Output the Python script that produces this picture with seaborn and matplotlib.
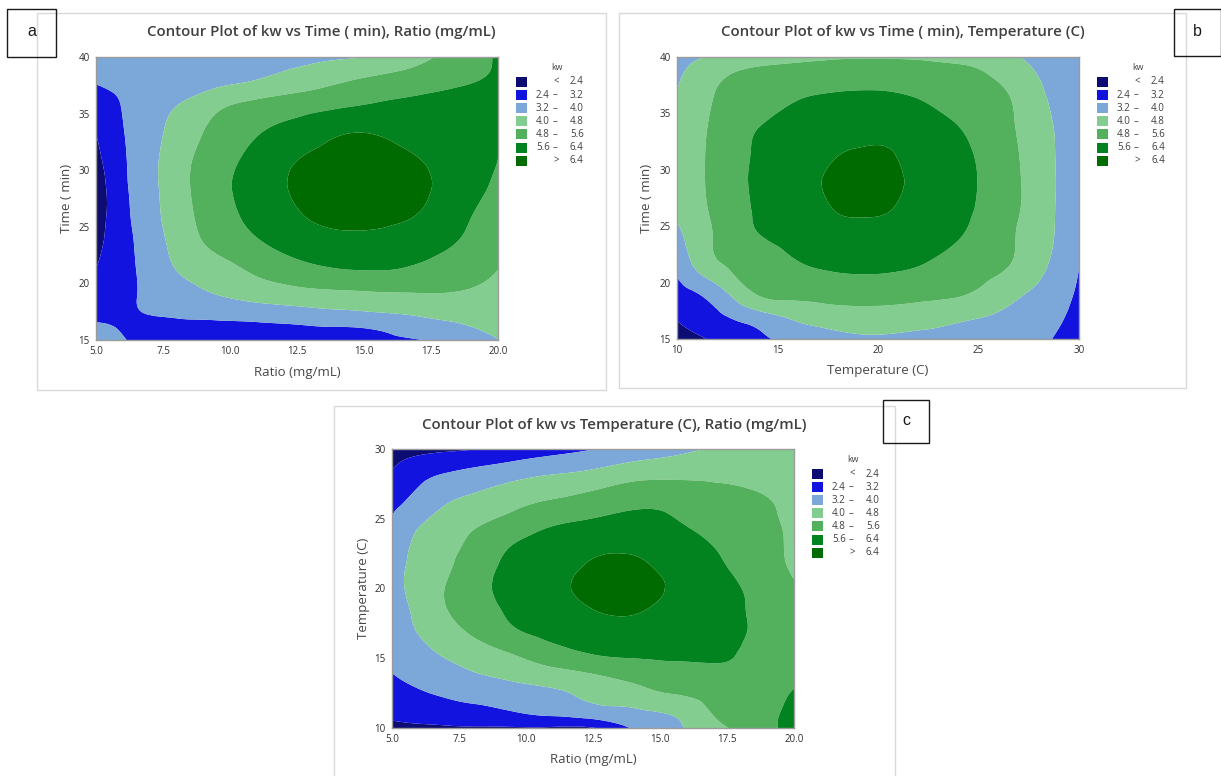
import numpy as np
import matplotlib
matplotlib.use("Agg")
import matplotlib.pyplot as plt
import matplotlib.tri as mtri
from matplotlib.patches import Rectangle
import seaborn as sns

# ---------------------------------------------------------------------------
# kw bands shared by the three contour plots
kw_levels = [0.0, 2.4, 3.2, 4.0, 4.8, 5.6, 6.4, 9.0]
band_low = ["<", "2.4", "3.2", "4.0", "4.8", "5.6", ">"]
band_high = ["2.4", "3.2", "4.0", "4.8", "5.6", "6.4", "6.4"]
band_colors = ["#0c0c72", "#1313e0", "#7ba7d9", "#82cd8f", "#53b05d", "#03831f", "#006b00"]

# (a) kw over Ratio (mg/mL) x Time (min)
ratio_a = [5, 6, 7, 8, 9.5, 11, 12.5, 14, 15.5, 17, 18.5, 20]
time_a = [15, 16, 17.5, 19, 21, 23.5, 26, 28.5, 31, 33.5, 36, 38, 40]
kw_a = [
    [3.40, 3.22, 3.10, 3.00, 2.90, 2.88, 2.92, 3.00, 3.08, 3.17, 3.54, 3.98],
    [3.28, 3.18, 3.10, 3.05, 3.02, 3.03, 3.08, 3.14, 3.24, 3.56, 3.87, 4.19],
    [3.05, 3.14, 3.23, 3.32, 3.46, 3.60, 3.74, 3.89, 4.03, 4.15, 4.25, 4.34],
    [2.80, 3.06, 3.32, 3.60, 4.00, 4.30, 4.50, 4.62, 4.70, 4.74, 4.72, 4.55],
    [2.45, 2.95, 3.46, 3.98, 4.44, 4.90, 5.25, 5.48, 5.55, 5.42, 5.15, 4.78],
    [2.20, 2.92, 3.59, 4.24, 4.99, 5.50, 5.95, 6.20, 6.20, 5.95, 5.57, 5.05],
    [2.00, 2.97, 3.71, 4.39, 5.24, 5.85, 6.34, 6.55, 6.55, 6.38, 5.82, 5.25],
    [1.95, 3.03, 3.77, 4.46, 5.34, 5.99, 6.50, 6.70, 6.72, 6.55, 6.04, 5.45],
    [2.20, 3.09, 3.77, 4.44, 5.24, 5.85, 6.38, 6.60, 6.62, 6.42, 6.01, 5.60],
    [2.45, 3.17, 3.71, 4.27, 5.02, 5.53, 5.90, 6.28, 6.32, 6.10, 5.90, 5.70],
    [2.92, 3.24, 3.61, 3.93, 4.52, 4.92, 5.15, 5.37, 5.60, 5.75, 5.85, 5.85],
    [3.25, 3.35, 3.45, 3.55, 3.75, 4.00, 4.33, 4.67, 4.95, 5.19, 5.44, 5.70],
    [3.40, 3.45, 3.50, 3.55, 3.62, 3.70, 3.80, 3.90, 4.10, 4.58, 5.10, 5.68],
]

# (b) kw over Temperature (C) x Time (min)
temp_b = [10, 12, 14, 16, 17.5, 19.25, 21, 22.5, 24.5, 26.5, 28.5, 30]
time_b = [15, 17, 19, 21.5, 24, 26.5, 29, 31.5, 34, 36.5, 38.5, 40]
kw_b = [
    [2.15, 2.52, 3.01, 3.45, 3.70, 3.88, 3.85, 3.76, 3.60, 3.40, 3.22, 2.95],
    [2.46, 3.05, 3.67, 4.20, 4.40, 4.50, 4.45, 4.35, 4.12, 3.81, 3.38, 3.06],
    [2.89, 3.64, 4.85, 5.02, 5.10, 5.14, 5.10, 5.00, 4.80, 4.26, 3.63, 3.10],
    [3.38, 4.67, 5.15, 5.53, 5.68, 5.76, 5.70, 5.54, 5.18, 4.81, 3.97, 3.21],
    [3.80, 4.91, 5.54, 5.90, 6.08, 6.18, 6.10, 5.90, 5.51, 4.92, 4.13, 3.30],
    [4.12, 5.00, 5.67, 6.04, 6.36, 6.46, 6.36, 6.04, 5.66, 5.04, 4.16, 3.38],
    [4.22, 5.05, 5.73, 6.17, 6.45, 6.55, 6.45, 6.17, 5.72, 5.06, 4.17, 3.42],
    [4.25, 5.03, 5.68, 6.03, 6.32, 6.44, 6.37, 6.03, 5.65, 5.01, 4.15, 3.42],
    [4.17, 4.97, 5.55, 5.92, 6.08, 6.16, 6.10, 5.92, 5.46, 4.91, 4.10, 3.40],
    [4.03, 4.85, 5.19, 5.54, 5.66, 5.72, 5.66, 5.48, 5.15, 4.82, 3.94, 3.37],
    [3.88, 4.62, 5.00, 5.14, 5.20, 5.23, 5.21, 5.15, 4.98, 4.50, 3.78, 3.33],
    [3.75, 4.12, 4.40, 4.60, 4.70, 4.75, 4.74, 4.68, 4.50, 4.12, 3.65, 3.30],
]

# (c) kw over Ratio (mg/mL) x Temperature (C)
ratio_c = [5, 6, 7, 8, 9.5, 11, 12.5, 14, 15.5, 17, 18.5, 20]
temp_c = [10, 11, 12.5, 14, 15.5, 17, 18.5, 20, 21.5, 23, 24.5, 26, 28, 30]
kw_c = [
    [2.27, 2.29, 2.30, 2.32, 2.33, 2.30, 2.36, 3.28, 3.86, 4.53, 5.24, 5.85],
    [2.51, 2.65, 2.80, 2.90, 3.10, 3.31, 3.55, 3.78, 4.05, 4.83, 5.33, 5.77],
    [2.87, 3.12, 3.30, 3.45, 3.67, 3.90, 4.18, 4.51, 4.84, 5.10, 5.37, 5.63],
    [3.21, 3.47, 3.73, 3.98, 4.28, 4.58, 4.88, 5.15, 5.38, 5.48, 5.50, 5.48],
    [3.35, 3.77, 4.14, 4.44, 4.90, 5.38, 5.70, 5.80, 5.78, 5.70, 5.52, 5.33],
    [3.50, 4.06, 4.51, 4.94, 5.53, 5.85, 6.10, 6.15, 6.02, 5.83, 5.55, 5.18],
    [3.63, 4.20, 4.77, 5.21, 5.73, 6.07, 6.40, 6.48, 6.17, 5.86, 5.52, 5.03],
    [3.75, 4.29, 4.82, 5.31, 5.84, 6.23, 6.58, 6.60, 6.33, 5.90, 5.45, 4.88],
    [3.72, 4.25, 4.68, 5.19, 5.78, 6.14, 6.50, 6.55, 6.20, 5.77, 5.25, 4.72],
    [3.55, 4.19, 4.58, 4.99, 5.63, 5.98, 6.22, 6.25, 6.00, 5.60, 5.13, 4.70],
    [3.30, 3.97, 4.35, 4.71, 5.16, 5.59, 5.78, 5.85, 5.70, 5.36, 5.05, 4.68],
    [3.05, 3.52, 4.00, 4.26, 4.65, 4.97, 5.25, 5.50, 5.45, 5.12, 4.95, 4.60],
    [2.52, 3.01, 3.32, 3.53, 3.84, 4.09, 4.30, 4.62, 4.70, 4.70, 4.62, 4.55],
    [2.10, 2.19, 2.28, 2.37, 2.61, 2.90, 3.18, 3.48, 3.78, 4.06, 4.28, 4.50],
]

ratio_ticks = [5.0, 7.5, 10.0, 12.5, 15.0, 17.5, 20.0]
time_ticks = [15, 20, 25, 30, 35, 40]
temp_ticks_x = [10, 15, 20, 25, 30]
temp_ticks_y = [10, 15, 20, 25, 30]

# ---------------------------------------------------------------------------
sns.set_theme(style="white")
plt.rcParams["font.family"] = ["Open Sans", "DejaVu Sans"]

W, H = 1221, 776
fig = plt.figure(figsize=(W / 100, H / 100), dpi=100)
fig.patch.set_facecolor("white")

TEXT = "#3f3f3f"
AXIS_GRAY = "#9c9c9c"


def fx(px):
    return px / W


def fy(py):
    return 1 - py / H


def frame(x0, y0, x1, y1, color, lw):
    fig.add_artist(Rectangle((fx(x0), fy(y1)), (x1 - x0) / W, (y1 - y0) / H,
                             transform=fig.transFigure, fill=False,
                             edgecolor=color, linewidth=lw))


def legend(x_plot_right, y_top):
    fig.text(fx(x_plot_right + 59), fy(y_top), "kw", ha="center", va="center",
             fontsize=6.3, color=TEXT)
    for i in range(len(band_colors)):
        yc = y_top + 14 + i * 13.1
        fig.add_artist(Rectangle((fx(x_plot_right + 18), fy(yc + 5)), 11 / W, 10 / H,
                                 transform=fig.transFigure, facecolor=band_colors[i],
                                 edgecolor="none"))
        lo, hi = band_low[i], band_high[i]
        if lo in ("<", ">"):
            fig.text(fx(x_plot_right + 61), fy(yc), lo, ha="right", va="center",
                     fontsize=7, color=TEXT)
        else:
            fig.text(fx(x_plot_right + 38), fy(yc), lo, ha="left", va="center",
                     fontsize=7, color=TEXT)
            fig.text(fx(x_plot_right + 57), fy(yc), "\u2013", ha="center", va="center",
                     fontsize=7, color=TEXT)
        fig.text(fx(x_plot_right + 72), fy(yc), hi, ha="left", va="center",
                 fontsize=7, color=TEXT)


def smooth_bands(ax, xs, ys, zs):
    # triangulate the grid and let matplotlib refine it with a smooth cubic surface
    gx, gy = np.meshgrid(np.asarray(xs, float), np.asarray(ys, float))
    tri = mtri.Triangulation(gx.ravel(), gy.ravel())
    z = np.asarray(zs, float).ravel()
    interp = mtri.CubicTriInterpolator(tri, z, kind="min_E")
    refiner = mtri.UniformTriRefiner(tri)
    tri_f, z_f = refiner.refine_field(z, triinterpolator=interp, subdiv=3)
    ax.tricontourf(tri_f, z_f, levels=kw_levels, colors=band_colors, antialiased=True)


def panel(box, plot, title, xs, ys, zs, xlim, ylim, xticks, yticks, xfmt,
          xlabel, ylabel, ylabel_x, xlabel_y):
    bx0, by0, bx1, by1 = box
    px0, py0, px1, py1 = plot
    frame(bx0, by0, bx1, by1, "#d9d9d9", 1.0)
    ax = fig.add_axes([fx(px0), fy(py1), (px1 - px0) / W, (py1 - py0) / H])
    smooth_bands(ax, xs, ys, zs)
    ax.set_xlim(*xlim)
    ax.set_ylim(*ylim)
    ax.set_xticks(xticks)
    ax.set_xticklabels([xfmt.format(v) for v in xticks])
    ax.set_yticks(yticks)
    ax.set_yticklabels([str(v) for v in yticks])
    ax.tick_params(axis="both", direction="out", length=3, width=0.8,
                   color=AXIS_GRAY, labelsize=7, labelcolor="#2e2e2e", pad=1.5)
    for sp in ax.spines.values():
        sp.set_color(AXIS_GRAY)
        sp.set_linewidth(1.0)
    ax.set_xlabel("")
    ax.set_ylabel("")
    fig.text(fx((bx0 + bx1) / 2), fy(by0 + 19), title, ha="center", va="center",
             fontsize=10.8, fontweight="semibold", color="#404040")
    fig.text(fx((px0 + px1) / 2), fy(xlabel_y), xlabel, ha="center", va="center",
             fontsize=9.5, color="#474747")
    fig.text(fx(ylabel_x), fy((py0 + py1) / 2), ylabel, ha="center", va="center",
             rotation=90, fontsize=9.5, color="#474747")
    legend(px1, py0 + 11)
    return ax


panel((37, 13, 606, 390), (96, 57, 498, 340),
      "Contour Plot of kw vs Time ( min), Ratio (mg/mL)",
      ratio_a, time_a, kw_a, (5, 20), (15, 40), ratio_ticks, time_ticks, "{:.1f}",
      "Ratio (mg/mL)", "Time ( min)", 66, 372)

panel((619, 13, 1186, 388), (677, 57, 1079, 339),
      "Contour Plot of kw vs Time ( min), Temperature (C)",
      temp_b, time_b, kw_b, (10, 30), (15, 40), temp_ticks_x, time_ticks, "{:d}",
      "Temperature (C)", "Time ( min)", 647, 370)

panel((334, 406, 895, 790), (392, 449, 794, 728),
      "Contour Plot of kw vs Temperature (C), Ratio (mg/mL)",
      ratio_c, temp_c, kw_c, (5, 20), (10, 30), ratio_ticks, temp_ticks_y, "{:.1f}",
      "Ratio (mg/mL)", "Temperature (C)", 363, 760)

# panel tags
for (x0, y0, x1, y1), tag in [((7, 9, 56, 57), "a"), ((1174, 9, 1221, 56), "b"),
                              ((883, 400, 929, 443), "c")]:
    frame(x0, y0, x1, y1, "#1a1a1a", 1.0)
    fig.text(fx((x0 + x1) / 2), fy((y0 + y1) / 2 - 1), tag, ha="center", va="center",
             fontsize=11.5, color="#1a1a1a", family=["Liberation Sans", "DejaVu Sans"])

fig.savefig("out.png", dpi=100, facecolor="white")
